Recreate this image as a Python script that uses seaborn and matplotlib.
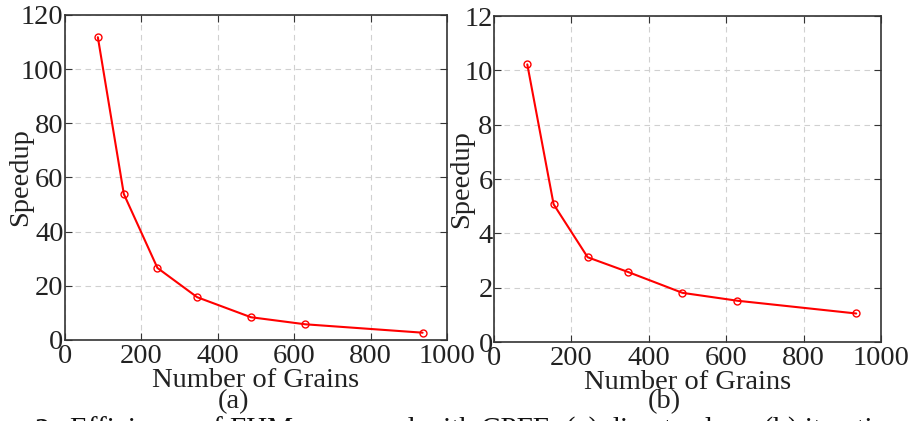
import matplotlib
matplotlib.use("Agg")
import matplotlib.pyplot as plt
import seaborn as sns
import pandas as pd

# Grain counts and measured speedups for the two solvers
grains = [86, 154, 242, 346, 487, 629, 936]
speedup_direct = [111.8, 53.9, 26.6, 15.8, 8.4, 5.8, 2.7]
speedup_iter = [10.22, 5.07, 3.12, 2.58, 1.81, 1.52, 1.05]

x_ticks = [0, 200, 400, 600, 800, 1000]
y_ticks_a = [0, 20, 40, 60, 80, 100, 120]
y_ticks_b = [0, 2, 4, 6, 8, 10, 12]

sns.set_theme(style="white")
plt.rcParams["font.family"] = ["Liberation Serif", "DejaVu Serif"]

FS = 20.5

fig = plt.figure(figsize=(9.14, 4.21), dpi=100)
ax_a = fig.add_axes([0.0711, 0.1924, 0.418, 0.772])
ax_b = fig.add_axes([0.5405, 0.1876, 0.4234, 0.7743])

panels = [
    (ax_a, speedup_direct, y_ticks_a, "(a)", -0.084),
    (ax_b, speedup_iter, y_ticks_b, "(b)", -0.052),
]

for ax, vals, yt, tag, ylab_x in panels:
    df = pd.DataFrame({"grains": grains, "speedup": vals})
    sns.lineplot(data=df, x="grains", y="speedup", ax=ax, color="#ff0000",
                 linewidth=1.5, marker="o", markersize=5,
                 markerfacecolor="none", markeredgecolor="#ff0000",
                 markeredgewidth=1.0)
    ax.set_xlim(0, 1000)
    ax.set_ylim(yt[0], yt[-1])
    ax.set_xticks(x_ticks)
    ax.set_yticks(yt)
    ax.grid(True, color="#d0d0d0", linestyle=(0, (5, 4)), linewidth=0.8)
    for s in ax.spines.values():
        s.set_color("#333333")
        s.set_linewidth(1.2)
    ax.tick_params(direction="in", top=True, right=True, bottom=True, left=True,
                   length=5, width=0.8, color="#333333", labelsize=FS,
                   labelcolor="#222222")
    ax.tick_params(axis="x", pad=3)
    ax.tick_params(axis="y", pad=1)
    ax.set_xlabel("Number of Grains", fontsize=FS, color="#222222", labelpad=-1)
    ax.set_ylabel("Speedup", fontsize=FS, color="#222222")
    ax.yaxis.set_label_coords(ylab_x, 0.5)
    pos = ax.get_position()
    fig.text((pos.x0 + pos.x1) / 2 - 0.025, 0.045, tag, ha="center", va="center",
             fontsize=FS, color="#222222")

# Figure caption running along the bottom edge
fig.text(35 / 914, 0.0105, "2:", ha="left", va="top", fontsize=21,
         fontweight="bold", color="#111111")
fig.text(70 / 914, 0.0105,
         "Efficiency of FHM compared with CPFE: (a) direct solver, (b) iterative solver",
         ha="left", va="top", fontsize=21, color="#111111")

fig.savefig("out.png", dpi=100)
